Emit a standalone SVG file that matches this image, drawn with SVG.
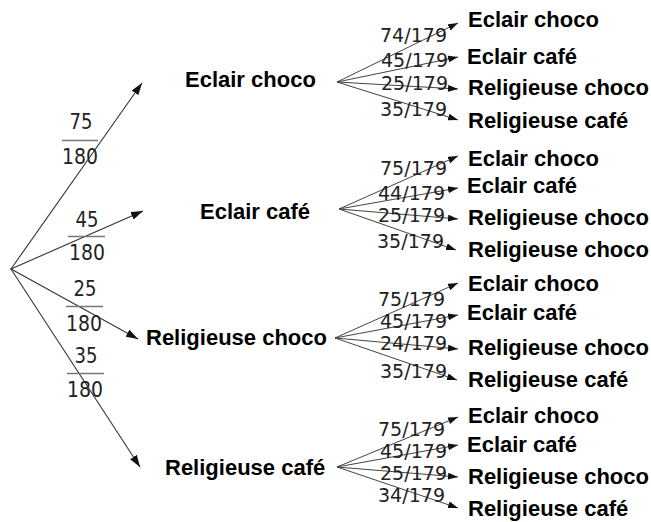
<svg xmlns="http://www.w3.org/2000/svg" width="651" height="522" viewBox="0 0 651 522">
<defs>
<marker id="ah" markerUnits="userSpaceOnUse" markerWidth="13" markerHeight="8" refX="12" refY="4" orient="auto"><path d="M0,0 L12,4 L0,8 Z" fill="#111"/></marker>
<marker id="ahs" markerUnits="userSpaceOnUse" markerWidth="11" markerHeight="7" refX="10" refY="3.5" orient="auto"><path d="M0,0 L10,3.5 L0,7 Z" fill="#111"/></marker>
<style>
.node{font-family:"Liberation Sans",Arial,sans-serif;font-weight:bold;font-size:22px;fill:#000}
.fr{font-family:"DejaVu Sans",sans-serif;font-size:22px;fill:#222;text-anchor:middle}
.p{font-family:"DejaVu Sans",sans-serif;font-size:19px;fill:#222}
.bar{stroke:#777;stroke-width:1.5}
.main{stroke:#333;stroke-width:1.1;fill:none;marker-end:url(#ah)}
.fan{stroke:#444;stroke-width:1;fill:none;marker-end:url(#ahs)}
</style>
</defs>
<rect width="651" height="522" fill="#fff"/>
<g id="connectors">
<line class="main" x1="11" y1="269" x2="142" y2="83"/>
<line class="main" x1="11" y1="269" x2="143" y2="211"/>
<line class="main" x1="11" y1="269" x2="138" y2="339"/>
<line class="main" x1="11" y1="269" x2="140" y2="467"/>
<line class="fan" x1="337" y1="82" x2="458" y2="23"/>
<line class="fan" x1="337" y1="82" x2="458" y2="57"/>
<line class="fan" x1="337" y1="82" x2="458" y2="89"/>
<line class="fan" x1="337" y1="82" x2="458" y2="120"/>
<line class="fan" x1="339" y1="209" x2="458" y2="156"/>
<line class="fan" x1="339" y1="209" x2="458" y2="188"/>
<line class="fan" x1="339" y1="209" x2="458" y2="219"/>
<line class="fan" x1="339" y1="209" x2="456" y2="250"/>
<line class="fan" x1="335" y1="338" x2="458" y2="283"/>
<line class="fan" x1="335" y1="338" x2="458" y2="315"/>
<line class="fan" x1="335" y1="338" x2="458" y2="349"/>
<line class="fan" x1="335" y1="338" x2="457" y2="380"/>
<line class="fan" x1="337" y1="467" x2="458" y2="417"/>
<line class="fan" x1="337" y1="467" x2="458" y2="445"/>
<line class="fan" x1="337" y1="467" x2="458" y2="477"/>
<line class="fan" x1="337" y1="467" x2="458" y2="508"/>
</g>
<g id="edge-labels">
<text class="fr" x="81" y="129" textLength="23" lengthAdjust="spacingAndGlyphs">75</text><line class="bar" x1="62" y1="140.5" x2="98" y2="140.5"/><text class="fr" x="80" y="163.5" textLength="36" lengthAdjust="spacingAndGlyphs">180</text>
<text class="fr" x="87" y="226.5" textLength="23" lengthAdjust="spacingAndGlyphs">45</text><line class="bar" x1="68" y1="236.5" x2="105" y2="236.5"/><text class="fr" x="87" y="260" textLength="36" lengthAdjust="spacingAndGlyphs">180</text>
<text class="fr" x="85" y="296" textLength="23" lengthAdjust="spacingAndGlyphs">25</text><line class="bar" x1="66" y1="306.5" x2="103" y2="306.5"/><text class="fr" x="84" y="330.5" textLength="36" lengthAdjust="spacingAndGlyphs">180</text>
<text class="fr" x="86" y="362.5" textLength="23" lengthAdjust="spacingAndGlyphs">35</text><line class="bar" x1="67" y1="373.5" x2="104" y2="373.5"/><text class="fr" x="85" y="397" textLength="36" lengthAdjust="spacingAndGlyphs">180</text>
<text class="p" x="380" y="42" textLength="67" lengthAdjust="spacingAndGlyphs">74/179</text>
<text class="p" x="381" y="67" textLength="67" lengthAdjust="spacingAndGlyphs">45/179</text>
<text class="p" x="381" y="90" textLength="67" lengthAdjust="spacingAndGlyphs">25/179</text>
<text class="p" x="380" y="116" textLength="67" lengthAdjust="spacingAndGlyphs">35/179</text>
<text class="p" x="380" y="175" textLength="67" lengthAdjust="spacingAndGlyphs">75/179</text>
<text class="p" x="378" y="200" textLength="67" lengthAdjust="spacingAndGlyphs">44/179</text>
<text class="p" x="378" y="222" textLength="67" lengthAdjust="spacingAndGlyphs">25/179</text>
<text class="p" x="377" y="248" textLength="67" lengthAdjust="spacingAndGlyphs">35/179</text>
<text class="p" x="378" y="306" textLength="67" lengthAdjust="spacingAndGlyphs">75/179</text>
<text class="p" x="380" y="328" textLength="67" lengthAdjust="spacingAndGlyphs">45/179</text>
<text class="p" x="380" y="350" textLength="67" lengthAdjust="spacingAndGlyphs">24/179</text>
<text class="p" x="380" y="378" textLength="67" lengthAdjust="spacingAndGlyphs">35/179</text>
<text class="p" x="378" y="436" textLength="67" lengthAdjust="spacingAndGlyphs">75/179</text>
<text class="p" x="380" y="458" textLength="67" lengthAdjust="spacingAndGlyphs">45/179</text>
<text class="p" x="380" y="479.5" textLength="67" lengthAdjust="spacingAndGlyphs">25/179</text>
<text class="p" x="378" y="502" textLength="67" lengthAdjust="spacingAndGlyphs">34/179</text>
</g>
<g id="root"><circle cx="11" cy="269" r="0.8" fill="#333"/></g>
<g id="n-eclair-choco"><text class="node" x="185" y="87">Eclair choco</text></g>
<g id="n-eclair-cafe"><text class="node" x="200" y="219">Eclair café</text></g>
<g id="n-religieuse-choco"><text class="node" x="146" y="345">Religieuse choco</text></g>
<g id="n-religieuse-cafe"><text class="node" x="165" y="475">Religieuse café</text></g>
<g id="leaf-1-1"><text class="node" x="468" y="27">Eclair choco</text></g>
<g id="leaf-1-2"><text class="node" x="467" y="64">Eclair café</text></g>
<g id="leaf-1-3"><text class="node" x="468" y="95">Religieuse choco</text></g>
<g id="leaf-1-4"><text class="node" x="468" y="128">Religieuse café</text></g>
<g id="leaf-2-1"><text class="node" x="468" y="166">Eclair choco</text></g>
<g id="leaf-2-2"><text class="node" x="467" y="193">Eclair café</text></g>
<g id="leaf-2-3"><text class="node" x="468" y="225">Religieuse choco</text></g>
<g id="leaf-2-4"><text class="node" x="468" y="257">Religieuse choco</text></g>
<g id="leaf-3-1"><text class="node" x="468" y="291">Eclair choco</text></g>
<g id="leaf-3-2"><text class="node" x="467" y="320">Eclair café</text></g>
<g id="leaf-3-3"><text class="node" x="468" y="355">Religieuse choco</text></g>
<g id="leaf-3-4"><text class="node" x="468" y="387">Religieuse café</text></g>
<g id="leaf-4-1"><text class="node" x="468" y="423">Eclair choco</text></g>
<g id="leaf-4-2"><text class="node" x="467" y="452">Eclair café</text></g>
<g id="leaf-4-3"><text class="node" x="468" y="484">Religieuse choco</text></g>
<g id="leaf-4-4"><text class="node" x="468" y="516">Religieuse café</text></g>
</svg>
